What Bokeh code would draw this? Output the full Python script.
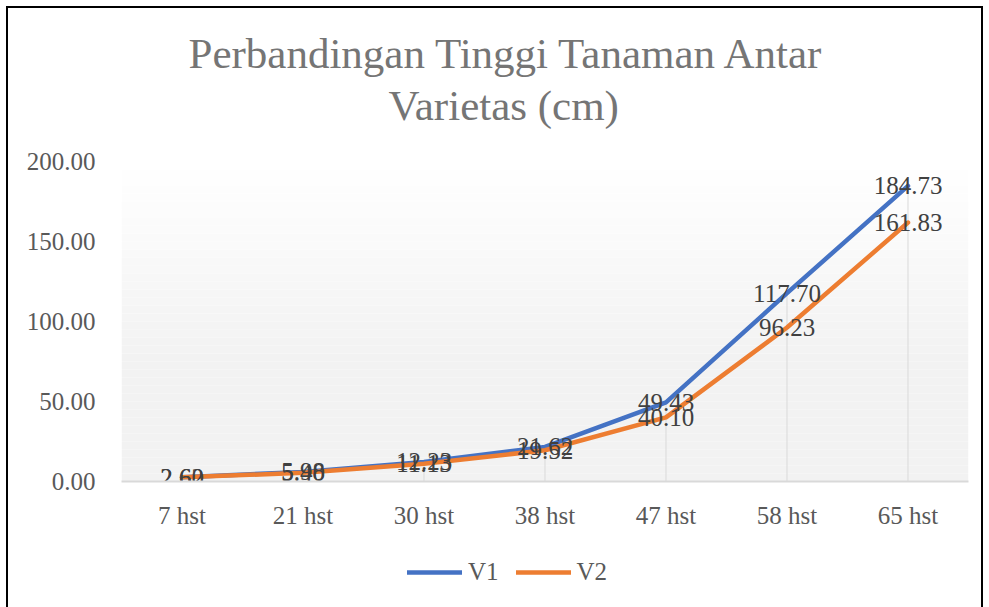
from bokeh.plotting import figure
from bokeh.layouts import column
from bokeh.models import (Range1d, FixedTicker, NumeralTickFormatter, Title, Legend,
                          LegendItem, BoxAnnotation, ColumnDataSource)
from bokeh.core.properties import value
from bokeh.embed import file_html
from bokeh.resources import INLINE

categories = ["7 hst", "21 hst", "30 hst", "38 hst", "47 hst", "58 hst", "65 hst"]
v1 = [2.62, 5.98, 12.23, 21.62, 49.43, 117.70, 184.73]
v2 = [2.60, 5.40, 11.13, 19.52, 40.10, 96.23, 161.83]
y_ticks = [0, 50, 100, 150, 200]
title_lines = ["Perbandingan Tinggi Tanaman Antar", "Varietas (cm)"]
series_names = ["V1", "V2"]

FONT = "Liberation Serif"
BLUE = "#4472C4"
ORANGE = "#ED7D31"
W = 973

# ---- title strip (frames of the column are aligned with the main chart) ----
tf = figure(width=W, height=140, x_range=Range1d(0, 1), y_range=Range1d(0, 1),
            x_axis_type=None, y_axis_type=None, output_backend="svg", toolbar_location=None,
            min_border_left=113, min_border_right=13, min_border_top=123, min_border_bottom=0)
tf.outline_line_color = None
tf.grid.visible = False
tf.add_layout(Title(text=title_lines[1], align="left", offset=267, text_font=FONT,
                    text_font_size="43px", text_font_style="normal", text_color="#757575",
                    standoff=6), "above")
tf.add_layout(Title(text=title_lines[0], align="left", offset=67, text_font=FONT,
                    text_font_size="43px", text_font_style="normal", text_color="#757575",
                    standoff=0), "above")

# ---- main chart ----
p = figure(x_range=categories, y_range=Range1d(0, 200), width=W, height=401,
           output_backend="svg", toolbar_location=None,
           min_border_left=113, min_border_right=13, min_border_top=13, min_border_bottom=68)
p.outline_line_color = None
p.background_fill_color = "white"
p.border_fill_color = "white"
p.xgrid.grid_line_color = None
p.ygrid.grid_line_color = None

# gradient background of the plot area
n = 40
for i in range(n):
    b = 200 * i / n
    t = 200 * (i + 1) / n
    frac = min(1.0, (200 - t) / 120.0)
    c = int(round(255 - 13 * frac))
    p.add_layout(BoxAnnotation(bottom=b, top=t, fill_color="#%02x%02x%02x" % (c, c, c),
                               fill_alpha=1, line_color=None, level="underlay"))

src = ColumnDataSource(dict(x=categories, v1=v1, v2=v2,
                            top=[max(a, b) for a, b in zip(v1, v2)],
                            zero=[0] * len(categories),
                            l1=["%.2f" % v for v in v1], l2=["%.2f" % v for v in v2]))
# drop lines
p.segment(x0="x", y0="zero", x1="x", y1="top", source=src, line_color="#d9d9d9", line_width=1)

p.line("x", "v1", source=src, line_color=BLUE, line_width=4.5, line_cap="round", line_join="round")
p.line("x", "v2", source=src, line_color=ORANGE, line_width=4.5, line_cap="round", line_join="round")

p.text("x", "v1", text="l1", source=src, text_font=value(FONT), text_font_size="25px",
       text_color="#404040", text_align="center", text_baseline="middle")
p.text("x", "v2", text="l2", source=src, text_font=value(FONT), text_font_size="25px",
       text_color="#404040", text_align="center", text_baseline="middle")

p.yaxis.ticker = FixedTicker(ticks=y_ticks)
p.yaxis.formatter = NumeralTickFormatter(format="0.00")
p.yaxis.axis_line_color = None
p.yaxis.major_tick_line_color = None
p.yaxis.minor_tick_line_color = None
p.yaxis.major_label_standoff = 20
p.yaxis.major_label_text_font = FONT
p.yaxis.major_label_text_font_size = "25px"
p.yaxis.major_label_text_color = "#595959"

p.xaxis.axis_line_color = "#d9d9d9"
p.xaxis.axis_line_width = 2
p.xaxis.major_tick_line_color = None
p.xaxis.minor_tick_line_color = None
p.xaxis.major_label_standoff = 14
p.xaxis.major_label_text_font = FONT
p.xaxis.major_label_text_font_size = "25px"
p.xaxis.major_label_text_color = "#595959"

# ---- legend strip (series drawn off-view so only the legend shows) ----
lf = figure(width=W, height=58, x_range=categories, y_range=Range1d(1000, 1001),
            x_axis_type=None, y_axis_type=None, output_backend="svg", toolbar_location=None,
            min_border_left=113, min_border_right=13, min_border_top=0, min_border_bottom=0)
lf.outline_line_color = None
lf.grid.visible = False
lr1 = lf.line(x=categories, y=v1, line_color=BLUE, line_width=4.5, line_cap="round")
lr2 = lf.line(x=categories, y=v2, line_color=ORANGE, line_width=4.5, line_cap="round")
legend = Legend(items=[LegendItem(label=series_names[0], renderers=[lr1]),
                       LegendItem(label=series_names[1], renderers=[lr2])],
                orientation="horizontal", location=(286, 21),
                label_text_font=FONT, label_text_font_size="25px", label_text_color="#595959",
                glyph_width=55, glyph_height=20, label_standoff=6, spacing=17,
                border_line_color=None, background_fill_alpha=0, padding=4, margin=0)
lf.add_layout(legend)

layout = column(tf, p, lf, width=W, height=599)
layout.styles = {"margin": "8px 0 0 8px",
                 "box-shadow": "-2px 0 0 0 black, 0 -2px 0 0 black, 2px 0 0 0 black, -2px -2px 0 0 black, 2px -2px 0 0 black"}

open("out.html", "w").write(file_html(layout, INLINE))
